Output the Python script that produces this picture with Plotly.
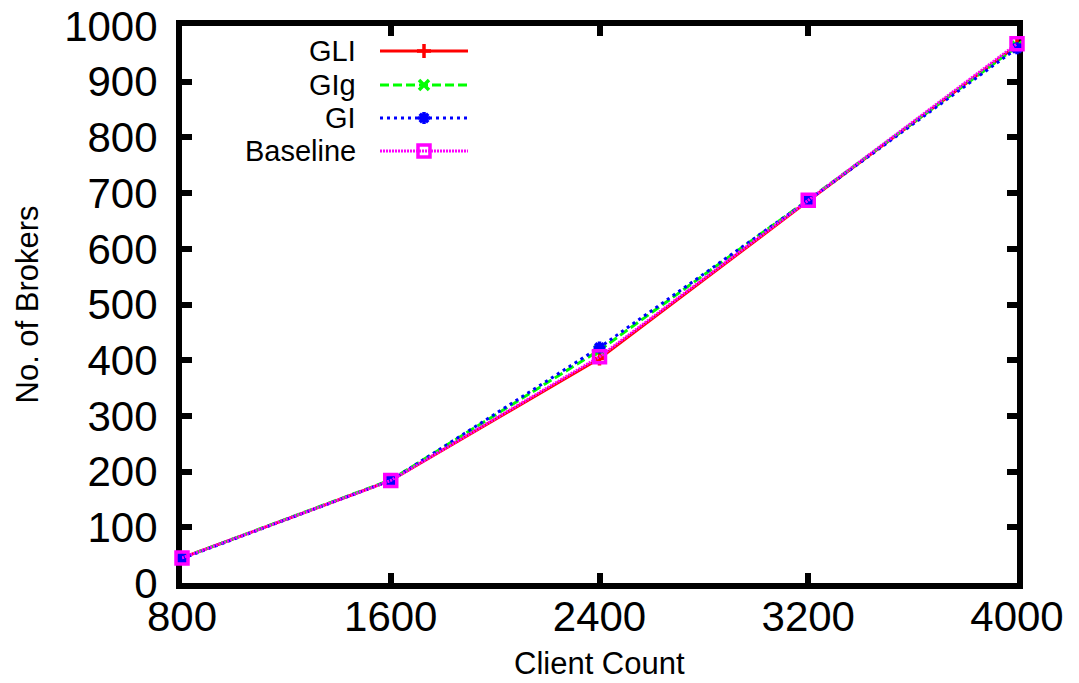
import plotly.graph_objects as go

# ---- data ----
clients = [800, 1600, 2400, 3200, 4000]
gli = [45, 184, 403, 686, 965]
gig = [45, 185, 418, 688, 963]
gi = [44, 184, 423, 687, 960]
baseline = [45, 184, 406, 687, 968]
x_ticks = [800, 1600, 2400, 3200, 4000]
y_ticks = [0, 100, 200, 300, 400, 500, 600, 700, 800, 900, 1000]
series_names = ["GLI", "GIg", "GI", "Baseline"]

# ---- styles ----
colors = ["#ff0000", "#00ff00", "#0000ff", "#ff00ff"]
dashes = ["solid", "9px,4px", "3px,4px", "2px,1px"]
symbols = ["cross-thin-open", "x-thin-open", "asterisk-open", "square-open"]
msizes = [10, 10, 10, 12]
FONT = "Liberation Sans, Arial, Helvetica, sans-serif"

fig = go.Figure()
for name, ys, c, d, s, ms in zip(series_names, [gli, gig, gi, baseline], colors, dashes, symbols, msizes):
    fig.add_trace(go.Scatter(
        x=clients, y=ys, mode="lines+markers", name=name,
        line=dict(color=c, width=3, dash=d),
        marker=dict(symbol=s, size=ms, color=c, line=dict(color=c, width=3.5)),
        cliponaxis=False, showlegend=False,
    ))

# ---- manual gnuplot-style key (text left of sample) on a pixel overlay axis ----
W, H = 1079, 683
PX_L, PX_R, PX_T, PX_B = 182, 1017, 26, 583
key_rows = [51, 85, 118, 151]
key_x0, key_x1, key_xm, key_text_x = 380, 468, 424, 358
for name, c, d, s, ms, ry in zip(series_names, colors, dashes, symbols, msizes, key_rows):
    fig.add_trace(go.Scatter(
        x=[key_x0, key_x1], y=[ry, ry], mode="lines", xaxis="x2", yaxis="y2",
        line=dict(color=c, width=3, dash=d), showlegend=False, hoverinfo="skip",
    ))
    fig.add_trace(go.Scatter(
        x=[key_xm], y=[ry], mode="markers", xaxis="x2", yaxis="y2",
        marker=dict(symbol=s, size=ms, color=c, line=dict(color=c, width=3.5)),
        showlegend=False, hoverinfo="skip", cliponaxis=False,
    ))
    fig.add_annotation(x=key_text_x, y=ry, xref="x2", yref="y2", text=name,
                       showarrow=False, xanchor="right", yanchor="middle",
                       font=dict(family=FONT, size=29, color="black"))

# axis titles as annotations placed in the margins (paper coords from pixels)
def px_to_paper_x(px):
    return (px - PX_L) / (PX_R - PX_L)

def px_to_paper_y(py):
    return (PX_B - py) / (PX_B - PX_T)

fig.add_annotation(x=0.5, y=px_to_paper_y(663), xref="paper", yref="paper", text="Client Count",
                   showarrow=False, xanchor="center", yanchor="middle",
                   font=dict(family=FONT, size=31, color="black"))
fig.add_annotation(x=px_to_paper_x(27), y=0.5, xref="paper", yref="paper", text="No. of Brokers",
                   showarrow=False, xanchor="center", yanchor="middle", textangle=-90,
                   font=dict(family=FONT, size=31, color="black"))

axis_common = dict(
    showline=True, linecolor="black", linewidth=6, mirror="ticks",
    ticks="inside", ticklen=10, tickwidth=6, tickcolor="black",
    showgrid=False, zeroline=False, layer="below traces", automargin=False,
    tickfont=dict(family=FONT, size=42, color="black"),
)

fig.update_layout(
    width=W, height=H,
    margin=dict(l=PX_L, r=W - PX_R, t=PX_T, b=H - PX_B),
    paper_bgcolor="white", plot_bgcolor="white",
    font=dict(family=FONT, color="black"),
    xaxis=dict(range=[800, 4000], tickvals=x_ticks, ticktext=[str(v) for v in x_ticks],
               ticklabelstandoff=-8, **axis_common),
    yaxis=dict(range=[0, 1000], tickvals=y_ticks, ticktext=[str(v) for v in y_ticks],
               ticklabelstandoff=10, **axis_common),
    xaxis2=dict(overlaying="x", range=[PX_L, PX_R], visible=False, automargin=False),
    yaxis2=dict(overlaying="y", range=[PX_B, PX_T], visible=False, automargin=False),
    showlegend=False,
)

fig.write_html("out.html")
